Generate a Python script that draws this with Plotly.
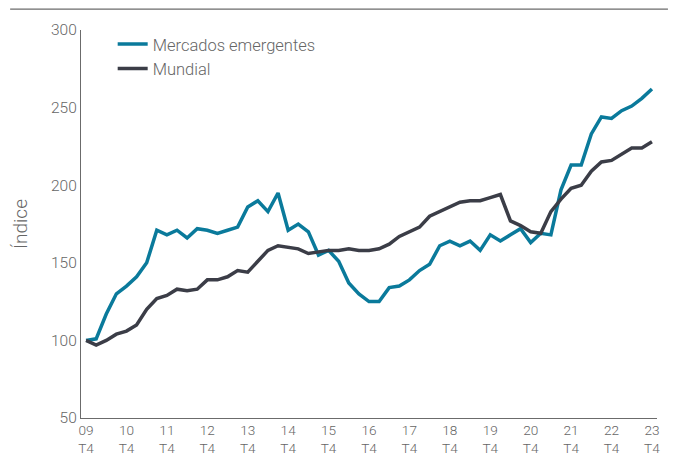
import plotly.graph_objects as go

years = ["09", "10", "11", "12", "13", "14", "15", "16", "17", "18", "19", "20", "21", "22", "23"]
# quarterly index, 09 T4 .. 23 T4
emergentes = [
    100, 101, 117, 130, 135, 141, 150, 171, 168, 171, 166, 172, 171, 169, 171, 173,
    186, 190, 183, 195, 171, 175, 170, 155, 158, 151, 137, 130, 125, 125, 134, 135,
    139, 145, 149, 161, 164, 161, 164, 158, 168, 164, 168, 172, 163, 169, 168, 197,
    213, 213, 233, 244, 243, 248, 251, 256, 262,
]
mundial = [
    100, 97, 100, 104, 106, 110, 120, 127, 129, 133, 132, 133, 139, 139, 141, 145,
    144, 151, 158, 161, 160, 159, 156, 157, 158, 158, 159, 158, 158, 159, 162, 167,
    170, 173, 180, 183, 186, 189, 190, 190, 192, 194, 177, 174, 170, 169, 183, 191,
    198, 200, 209, 215, 216, 220, 224, 224, 228,
]

quarters = list(range(len(emergentes)))
tickvals = [i * 4 for i in range(len(years))]
ticktext = [f"{y}<br>T4" for y in years]

font = dict(family="Roboto", size=15.5, color="#666666", weight=300)
xtick_font = dict(family="Roboto", size=13.6, color="#666666", weight=300)
legend_font = dict(family="Roboto", size=16.5, color="#666666", weight=300)

fig = go.Figure()
fig.add_trace(go.Scatter(
    x=quarters, y=emergentes, mode="lines", name="Mercados emergentes",
    line=dict(color="#0a7a9b", width=3.5),
))
fig.add_trace(go.Scatter(
    x=quarters, y=mundial, mode="lines", name="Mundial",
    line=dict(color="#3b3d47", width=3.5),
))

# page body keeps an 8px margin, so the figure is 8px smaller each way
fig.update_layout(
    width=669,
    height=448,
    margin=dict(l=73, r=20, t=22, b=38),
    paper_bgcolor="white",
    plot_bgcolor="white",
    font=font,
    showlegend=True,
    legend=dict(
        x=0.055, y=1.008, xanchor="left", yanchor="top",
        bgcolor="rgba(0,0,0,0)", font=legend_font, tracegroupgap=0,
        itemwidth=30,
    ),
    xaxis=dict(
        range=[-0.5, 56.5],
        tickmode="array",
        tickvals=tickvals,
        ticktext=ticktext,
        tickfont=xtick_font,
        showgrid=False,
        zeroline=False,
        showline=True,
        linecolor="#6b6b6b",
        linewidth=1.2,
        ticks="",
        automargin=False,
    ),
    yaxis=dict(
        range=[50, 300],
        tickvals=[50, 100, 150, 200, 250, 300],
        showgrid=False,
        zeroline=False,
        showline=True,
        linecolor="#6b6b6b",
        linewidth=1.2,
        ticks="",
        automargin=False,
        title=dict(text="Índice", standoff=18),
    ),
    shapes=[dict(
        type="line", xref="paper", yref="paper",
        x0=-0.123, x1=1.019, y0=1.054, y1=1.054,
        line=dict(color="#6b6b6b", width=1.2),
    )],
)

fig.write_html("out.html")
